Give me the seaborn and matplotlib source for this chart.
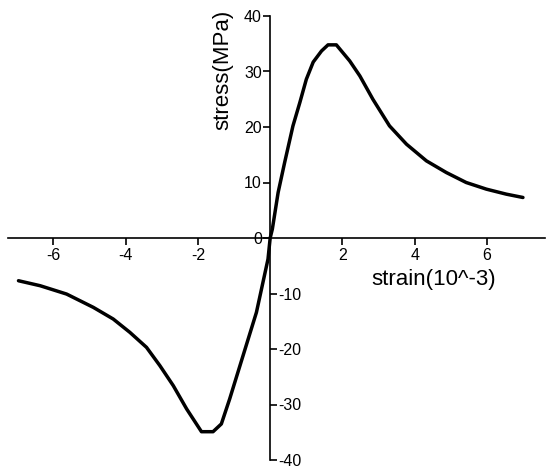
import matplotlib
matplotlib.use("Agg")
import matplotlib.pyplot as plt
import matplotlib.ticker as mticker
import pandas as pd
import seaborn as sns

# stress-strain curve
strain = [-6.96, -6.36, -5.63, -4.89, -4.34, -3.88, -3.42, -3.05, -2.68, -2.31,
          -1.90, -1.58, -1.35, -1.12, -0.75, -0.38, -0.06, 0.0, 0.06, 0.22,
          0.40, 0.63, 0.82, 1.0, 1.19, 1.42, 1.60, 1.83, 2.2, 2.48,
          2.84, 3.30, 3.77, 4.32, 4.87, 5.42, 5.98, 6.53, 6.99]
stress = [-7.7, -8.6, -10.1, -12.5, -14.6, -17.0, -19.7, -23.0, -26.6, -30.8,
          -34.9, -34.9, -33.5, -29.0, -21.2, -13.4, -3.8, 0.0, 1.6, 8.2,
          13.6, 20.2, 24.4, 28.6, 31.7, 33.7, 34.8, 34.8, 31.9, 29.2,
          25.0, 20.2, 16.9, 13.9, 11.8, 10.0, 8.8, 7.9, 7.3]
xticks = [-6, -4, -2, 2, 4, 6]
yticks_pos = [0, 10, 20, 30, 40]
yticks_neg = [-40, -30, -20, -10]

df = pd.DataFrame({"strain": strain, "stress": stress})

sns.set_style("white")
plt.rcParams["font.family"] = ["Liberation Sans", "DejaVu Sans"]

fig = plt.figure(figsize=(5.5, 4.75), dpi=100)
ax = fig.add_axes([8 / 550, 15 / 475, 537 / 550, 444 / 475])

sns.lineplot(data=df, x="strain", y="stress", sort=False, color="black", lw=2.5, ax=ax)

ax.set_xlim(-7.25, 7.6)
ax.set_ylim(-40, 40)

# axes crossing at origin
for s in ["left", "right", "bottom"]:
    ax.spines[s].set_position(("data", 0))
    ax.spines[s].set_color("black")
    ax.spines[s].set_linewidth(1.2)
ax.spines["top"].set_visible(False)
ax.spines["right"].set_visible(False)

ax.set_xticks(xticks)
ax.set_xticklabels([str(v) for v in xticks])
ax.tick_params(axis="x", direction="out", length=5, width=1.2, bottom=True,
               labelsize=11.5, labelcolor="black", color="black", pad=2)

# positive ticks on the left, negative ticks on the right
ax.yaxis.set_major_locator(mticker.FixedLocator(yticks_pos))
ax.yaxis.set_minor_locator(mticker.FixedLocator(yticks_neg))
ax.yaxis.set_major_formatter(mticker.FuncFormatter(lambda v, p: f"{v:g}"))
ax.yaxis.set_minor_formatter(mticker.FuncFormatter(lambda v, p: f"{v:g}"))
ax.tick_params(axis="y", which="major", left=True, right=False, labelleft=True, labelright=False,
               direction="out", length=5, width=1.2, labelsize=11.5, labelcolor="black",
               color="black", pad=1)
ax.tick_params(axis="y", which="minor", left=False, right=True, labelleft=False, labelright=True,
               direction="out", length=5, width=1.2, labelsize=11.5, labelcolor="black",
               color="black", pad=1)

ax.set_xlabel("")
ax.set_ylabel("")
ax.text(4.53, -7.4, "strain(10^-3)", fontsize=16, color="black", ha="center", va="center")
ax.text(-1.32, 30.3, "stress(MPa)", fontsize=16, color="black", ha="center", va="center",
        rotation=90)

fig.savefig("out.png", dpi=100)
